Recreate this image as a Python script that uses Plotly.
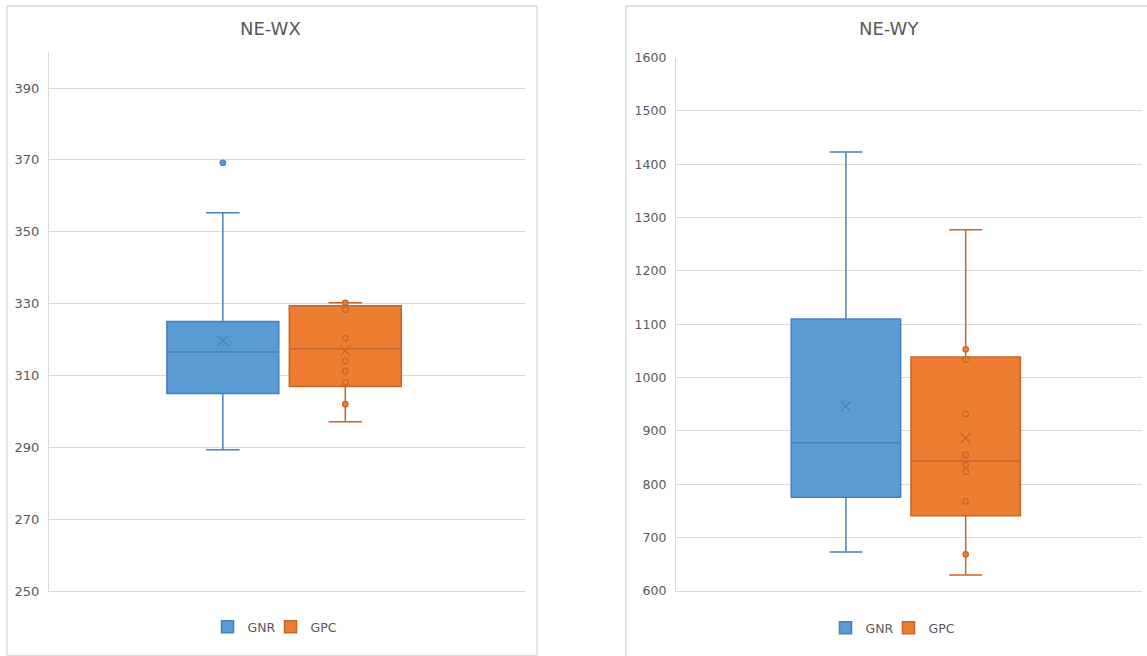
import plotly.graph_objects as go

# ---- data -------------------------------------------------------------
series = ["GNR", "GPC"]
fill_colors = ["#5B9BD5", "#ED7D31"]
line_colors = ["#4A80B8", "#C5662B"]

# NE-WX panel (box statistics per series)
wx_category = "NE-WX"
wx_q1 = [305.0, 306.9]
wx_median = [316.5, 317.4]
wx_q3 = [325.0, 329.4]
wx_lower = [289.3, 297.1]
wx_upper = [355.3, 330.2]
wx_mean = [319.7, 316.9]
wx_points = [
    [369.2],                                             # GNR outlier
    [330.2, 328.3, 320.4, 314.0, 311.2, 308.1, 302.0],   # GPC points
]

# NE-WY panel
wy_category = "NE-WY"
wy_q1 = [775.5, 741.0]
wy_median = [878.0, 843.7]
wy_q3 = [1110.0, 1038.6]
wy_lower = [673.0, 630.0]
wy_upper = [1423.0, 1277.0]
wy_mean = [946.0, 886.8]
wy_points = [
    [],
    [1053.0, 1034.0, 931.8, 855.0, 836.0, 823.7, 768.0, 668.7],
]

# axis ticks
wx_range = [250, 400]
wx_dtick = 20
wy_range = [600, 1600]
wy_dtick = 100

W, H = 1147, 656
GRID = "#D9D9D9"
TEXT = "#595959"
FONT = "DejaVu Sans"

# legend entry widths (the first entry is kept compact)
legend_widths = [18, None]

fig = go.Figure()


def add_panel(cat, q1, med, q3, lo, hi, mean, points, xa, ya, legend, agroup):
    for i, name in enumerate(series):
        og = f"{agroup}-{name}"
        # the box itself, from precomputed statistics
        fig.add_trace(go.Box(
            name=name, x=[cat], q1=[q1[i]], median=[med[i]], q3=[q3[i]],
            lowerfence=[lo[i]], upperfence=[hi[i]], boxmean=False,
            boxpoints=False, fillcolor=fill_colors[i],
            line=dict(color=line_colors[i], width=1.5), whiskerwidth=0.3,
            xaxis=xa, yaxis=ya, offsetgroup=og, alignmentgroup=agroup,
            legend=legend, showlegend=True, legendwidth=legend_widths[i],
        ))
        # individual data points
        if points[i]:
            fig.add_trace(go.Box(
                name=name, x=[cat] * len(points[i]), y=points[i],
                boxpoints="all", jitter=0, pointpos=0,
                fillcolor="rgba(0,0,0,0)", line=dict(width=0),
                whiskerwidth=0,
                marker=dict(size=5.5, color=fill_colors[i],
                            line=dict(color=line_colors[i], width=1.2)),
                xaxis=xa, yaxis=ya, offsetgroup=og, alignmentgroup=agroup,
                legend=legend, showlegend=False,
            ))
        # mean marker
        fig.add_trace(go.Box(
            name=name, x=[cat], y=[mean[i]],
            boxpoints="all", jitter=0, pointpos=0,
            fillcolor="rgba(0,0,0,0)", line=dict(width=0), whiskerwidth=0,
            marker=dict(symbol="x-thin", size=10, color=line_colors[i],
                        line=dict(color=line_colors[i], width=1.3)),
            xaxis=xa, yaxis=ya, offsetgroup=og, alignmentgroup=agroup,
            legend=legend, showlegend=False,
        ))


add_panel(wx_category, wx_q1, wx_median, wx_q3, wx_lower, wx_upper, wx_mean,
          wx_points, "x", "y", "legend", "wx")
add_panel(wy_category, wy_q1, wy_median, wy_q3, wy_lower, wy_upper, wy_mean,
          wy_points, "x2", "y2", "legend2", "wy")


def px_x(v):
    return v / W


def px_y(v):
    return 1 - v / H


yaxis_common = dict(
    showgrid=True, gridcolor=GRID, gridwidth=1.3, zeroline=False,
    showline=True, linecolor=GRID, linewidth=1.3, ticks="",
    tickfont=dict(family=FONT, size=13, color=TEXT), automargin=False,
    ticklabelstandoff=6, fixedrange=True,
)
xaxis_common = dict(
    type="category", showticklabels=False, showgrid=False, zeroline=False,
    showline=True, linecolor=GRID, linewidth=1.3, ticks="", automargin=False,
    fixedrange=True,
)

legend_common = dict(
    orientation="h", xanchor="center", yanchor="middle",
    font=dict(family=FONT, size=12.5, color=TEXT),
    bgcolor="rgba(0,0,0,0)", itemwidth=30, itemclick=False,
)

fig.update_layout(
    width=W, height=H, autosize=False,
    margin=dict(l=0, r=0, t=0, b=0, pad=0),
    paper_bgcolor="white", plot_bgcolor="white",
    boxmode="group", boxgap=0.479, boxgroupgap=0.086,
    xaxis=dict(domain=[px_x(49), px_x(525)], range=[-0.5, 0.5125],
               anchor="y", **xaxis_common),
    yaxis=dict(domain=[px_y(591), px_y(52.1)], range=wx_range,
               tick0=wx_range[0], dtick=wx_dtick, anchor="x", **yaxis_common),
    xaxis2=dict(domain=[px_x(676), px_x(1142)], range=[-0.5, 0.5139],
                anchor="y2", **xaxis_common),
    yaxis2=dict(domain=[px_y(591), px_y(57.5)], range=wy_range,
                tick0=wy_range[0], dtick=wy_dtick, anchor="x2",
                **{**yaxis_common,
                   "tickfont": dict(family=FONT, size=12.5, color=TEXT)}),
    legend=dict(x=px_x(275), y=px_y(627), **legend_common),
    legend2=dict(x=px_x(893), y=px_y(628), **legend_common),
    showlegend=True,
    annotations=[
        dict(text=wx_category, x=px_x(270), y=px_y(29), xref="paper",
             yref="paper", showarrow=False, xanchor="center",
             yanchor="middle", font=dict(family=FONT, size=18, color=TEXT)),
        dict(text=wy_category, x=px_x(889), y=px_y(29), xref="paper",
             yref="paper", showarrow=False, xanchor="center",
             yanchor="middle", font=dict(family=FONT, size=18, color=TEXT)),
    ],
    shapes=[
        # chart-area frames
        dict(type="rect", xref="paper", yref="paper",
             x0=px_x(7), x1=px_x(537), y0=px_y(655.5), y1=px_y(6),
             line=dict(color=GRID, width=1.3), fillcolor="rgba(0,0,0,0)",
             layer="below"),
        dict(type="rect", xref="paper", yref="paper",
             x0=px_x(626), x1=px_x(1160), y0=px_y(670), y1=px_y(6),
             line=dict(color=GRID, width=1.3), fillcolor="rgba(0,0,0,0)",
             layer="below"),
    ],
)

fig.write_html("out.html")
